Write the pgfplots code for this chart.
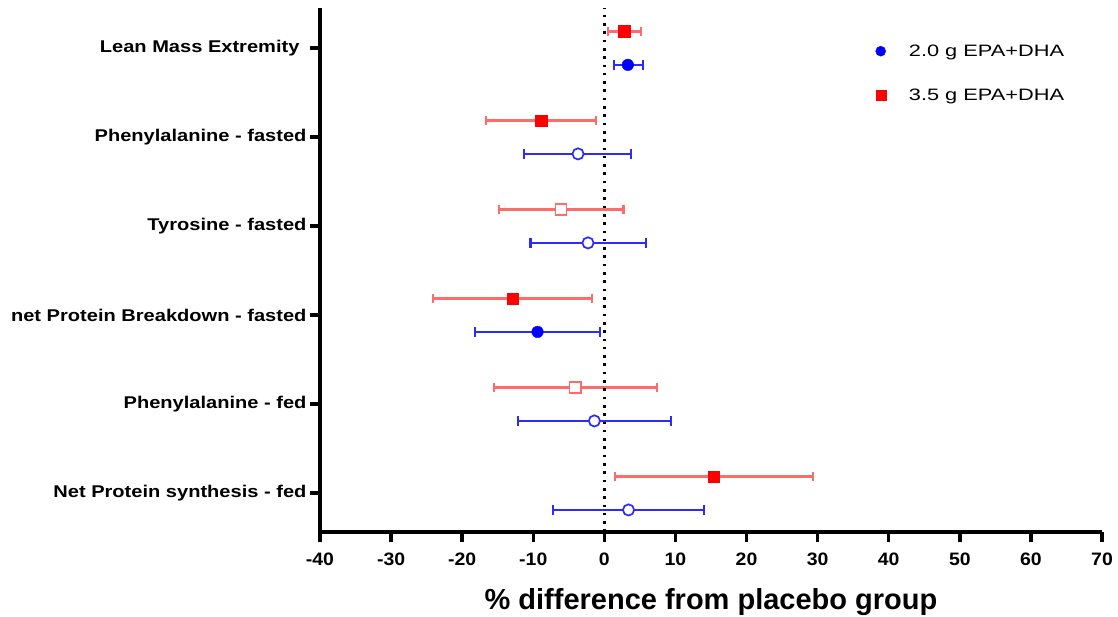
\documentclass[border=0pt]{standalone}
\usepackage{pgfplots}
\pgfplotsset{compat=1.18}
\usepackage{pgfplotstable}
\usepackage{fontspec}
\setmainfont{Liberation Sans}
\newfontfamily\ylabfont[FakeStretch=1.18]{Liberation Sans}
\newfontfamily\legfont[FakeStretch=1.32]{Liberation Sans}
\newfontfamily\xtfont[FakeStretch=1.08]{Liberation Sans}
\usetikzlibrary{calc}

\definecolor{redmk}{HTML}{FF0000}
\definecolor{rederr}{HTML}{FF6A6A}
\definecolor{bluemk}{HTML}{0000FF}
\definecolor{blueerr}{HTML}{2B2BFF}

% 3.5 g EPA+DHA (upper row of each category)
\pgfplotstableread{
x     y      em    ep    filled
2.8   6.185  2.3   2.4   1
-8.9  5.185  7.7   7.7   1
-6.1  4.185  8.7   8.8   0
-12.9 3.185  11.2  11.2  1
-4.1  2.185  11.4  11.5  0
15.4  1.185  13.9  13.9  1
}\redtab
% 2.0 g EPA+DHA (lower row of each category)
\pgfplotstableread{
x     y      em    ep    filled
3.3   5.81   2.0   2.1   1
-3.7  4.81   7.6   7.5   0
-2.3  3.81   8.1   8.2   0
-9.4  2.81   8.8   8.8   1
-1.4  1.81   10.7  10.8  0
3.4   0.81   10.6  10.6  0
}\bluetab

\begin{document}
\begin{tikzpicture}
\begin{axis}[
  scale only axis, width=782pt, height=524pt,
  xmin=-40, xmax=70, ymin=0.562, ymax=6.449,
  axis x line*=bottom, axis y line*=left,
  axis line style={line width=3.5pt, -},
  xtick={-40,-30,...,70},
  xticklabels={-40,-30,-20,-10,0,10,20,30,40,50,60,70},
  ytick={1,...,6},
  yticklabels={Net Protein synthesis - fed, Phenylalanine - fed,
               net Protein Breakdown - fasted, Tyrosine - fasted,
               Phenylalanine - fasted, Lean Mass Extremity\kern7pt},
  tick align=outside, major tick length=10pt,
  tick style={line width=3.5pt, black},
  xticklabel style={font=\xtfont\bfseries\fontsize{18}{20}\selectfont, yshift=-7pt},
  yticklabel style={font=\ylabfont\bfseries\fontsize{17}{20}\selectfont},
  xlabel={\% difference from placebo group},
  xlabel style={font=\bfseries\fontsize{29}{32}\selectfont, yshift=-16pt},
  clip=false,
  legend style={draw=none, fill=none, at={(0.705,0.938)}, anchor=north west,
                font=\legfont\fontsize{16.5}{19}\selectfont, row sep=27pt,
                cells={anchor=west}},
  legend image code/.code={\draw[#1, mark size=5pt] plot coordinates {(0pt,0pt)}; \path (-6pt,0pt) (26pt,0pt);},
]
  % error bars
  \addplot[only marks, mark=none, rederr, forget plot,
           error bars/.cd, x dir=both, x explicit, error mark=|,
           error bar style={rederr, line width=2.2pt},
           error mark options={rederr, line width=2.2pt, mark size=4.8pt}]
    table[x=x, y=y, x error plus=ep, x error minus=em] {\redtab};
  \addplot[only marks, mark=none, blueerr, forget plot,
           error bars/.cd, x dir=both, x explicit, error mark=|,
           error bar style={blueerr, line width=2.2pt},
           error mark options={blueerr, line width=2.2pt, mark size=4.8pt}]
    table[x=x, y=y, x error plus=ep, x error minus=em] {\bluetab};

  \draw[black, line width=2.6pt, dash pattern=on 2.6pt off 5.7pt]
    (axis cs:0,0.562) -- (axis cs:0,6.449);

  % filled markers
  \addplot[only marks, mark=*, mark size=5.8pt, bluemk, mark options={fill=bluemk, draw=bluemk}]
    table[x=x, y=y, restrict expr to domain={\thisrow{filled}}{1:1}] {\bluetab};
  \addlegendentry{2.0 g EPA+DHA}
  \addplot[only marks, mark=square*, mark size=5.8pt, redmk, mark options={fill=redmk, draw=redmk}]
    table[x=x, y=y, restrict expr to domain={\thisrow{filled}}{1:1}] {\redtab};
  \addlegendentry{3.5 g EPA+DHA}
  % open markers
  \addplot[only marks, mark=*, mark size=5.6pt, blueerr, mark options={line width=1.7pt, fill=white, draw=blueerr}, forget plot]
    table[x=x, y=y, restrict expr to domain={\thisrow{filled}}{0:0}] {\bluetab};
  \addplot[only marks, mark=square*, mark size=5.6pt, rederr, mark options={line width=1.7pt, fill=white, draw=rederr}, forget plot]
    table[x=x, y=y, restrict expr to domain={\thisrow{filled}}{0:0}] {\redtab};

  \coordinate (O) at (rel axis cs:0,0);
  \coordinate (T) at (rel axis cs:1,1);
\end{axis}
\pgfresetboundingbox
\path[use as bounding box] ($(O)+(-320pt,-84pt)$) rectangle ($(T)+(16pt,8pt)$);
\end{tikzpicture}
\end{document}
